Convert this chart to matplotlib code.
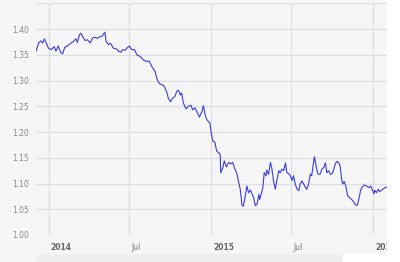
import pandas as pd
import matplotlib
matplotlib.use("Agg")
import matplotlib.pyplot as plt
import matplotlib.transforms as mtransforms
from matplotlib.patches import Rectangle

# EUR/USD style daily series
dates = [
    "2013-12-03", "2013-12-09", "2013-12-14", "2013-12-18", "2013-12-22", "2013-12-31",
    "2014-01-07", "2014-01-13", "2014-01-17", "2014-01-22", "2014-01-28", "2014-02-01",
    "2014-02-06", "2014-02-10", "2014-02-14", "2014-02-19", "2014-02-25", "2014-03-03",
    "2014-03-06", "2014-03-11", "2014-03-14", "2014-03-18", "2014-03-23", "2014-03-29",
    "2014-04-04", "2014-04-10", "2014-04-15", "2014-04-20", "2014-04-26", "2014-05-02",
    "2014-05-07", "2014-05-10", "2014-05-15", "2014-05-20", "2014-05-26", "2014-06-03",
    "2014-06-07", "2014-06-12", "2014-06-16", "2014-06-22", "2014-06-27", "2014-07-01",
    "2014-07-07", "2014-07-13", "2014-07-18", "2014-07-25", "2014-08-02", "2014-08-09",
    "2014-08-15", "2014-08-21", "2014-08-28", "2014-09-02", "2014-09-07", "2014-09-12",
    "2014-09-17", "2014-09-23", "2014-09-27", "2014-10-02", "2014-10-07", "2014-10-12",
    "2014-10-16", "2014-10-20", "2014-10-24", "2014-10-27", "2014-10-31", "2014-11-06",
    "2014-11-11", "2014-11-17", "2014-11-21", "2014-11-26", "2014-12-02", "2014-12-06",
    "2014-12-12", "2014-12-15", "2014-12-19", "2014-12-23", "2014-12-30",
    "2015-01-01", "2015-01-05", "2015-01-10", "2015-01-14", "2015-01-18", "2015-01-22",
    "2015-01-23", "2015-01-28", "2015-01-31", "2015-02-05", "2015-02-10", "2015-02-15",
    "2015-02-19", "2015-02-24", "2015-02-28", "2015-03-04", "2015-03-08", "2015-03-12",
    "2015-03-15", "2015-03-19", "2015-03-23", "2015-03-27", "2015-03-31", "2015-04-04",
    "2015-04-07", "2015-04-11", "2015-04-15", "2015-04-19", "2015-04-21", "2015-04-25",
    "2015-04-28", "2015-05-01", "2015-05-05", "2015-05-07", "2015-05-11", "2015-05-15",
    "2015-05-18", "2015-05-22", "2015-05-26", "2015-05-30", "2015-06-03", "2015-06-06",
    "2015-06-10", "2015-06-14", "2015-06-18", "2015-06-21", "2015-06-25", "2015-06-29",
    "2015-07-03", "2015-07-06", "2015-07-10", "2015-07-14", "2015-07-18", "2015-07-21",
    "2015-07-25", "2015-07-29", "2015-08-02", "2015-08-05", "2015-08-09", "2015-08-13",
    "2015-08-16", "2015-08-22", "2015-08-28", "2015-08-31", "2015-09-04", "2015-09-08",
    "2015-09-12", "2015-09-16", "2015-09-19", "2015-09-23", "2015-09-27", "2015-10-01",
    "2015-10-04", "2015-10-08", "2015-10-12", "2015-10-16", "2015-10-19", "2015-10-23",
    "2015-10-25", "2015-10-28", "2015-11-01", "2015-11-05", "2015-11-09", "2015-11-14",
    "2015-11-18", "2015-11-23", "2015-11-27", "2015-12-01", "2015-12-04", "2015-12-07",
    "2015-12-12", "2015-12-18", "2015-12-23", "2015-12-27", "2015-12-31",
    "2016-01-03", "2016-01-05", "2016-01-09", "2016-01-13", "2016-01-16", "2016-01-20",
    "2016-01-24", "2016-01-28", "2016-02-01",
]
rates = [
    1.357, 1.373, 1.377, 1.373, 1.381, 1.363,
    1.360, 1.366, 1.357, 1.367, 1.354, 1.352,
    1.365, 1.366, 1.369, 1.372, 1.376, 1.381,
    1.374, 1.389, 1.392, 1.386, 1.378, 1.379,
    1.373, 1.383, 1.384, 1.382, 1.385, 1.387,
    1.394, 1.376, 1.370, 1.372, 1.363, 1.361,
    1.357, 1.355, 1.360, 1.359, 1.364, 1.367,
    1.360, 1.360, 1.350, 1.347, 1.340, 1.337,
    1.338, 1.327, 1.318, 1.302, 1.294, 1.292,
    1.290, 1.279, 1.266, 1.259, 1.266, 1.269,
    1.279, 1.281, 1.272, 1.276, 1.256, 1.245,
    1.250, 1.252, 1.243, 1.247, 1.237, 1.229,
    1.240, 1.251, 1.233, 1.224, 1.217,
    1.202, 1.183, 1.180, 1.163, 1.160, 1.157,
    1.121, 1.131, 1.144, 1.132, 1.141, 1.138,
    1.141, 1.128, 1.121, 1.105, 1.089, 1.058,
    1.056, 1.073, 1.095, 1.082, 1.087, 1.079,
    1.073, 1.057, 1.060, 1.079, 1.069, 1.082,
    1.092, 1.121, 1.115, 1.126, 1.118, 1.141,
    1.131, 1.105, 1.089, 1.108, 1.125, 1.121,
    1.128, 1.125, 1.140, 1.121, 1.119, 1.115,
    1.106, 1.115, 1.099, 1.089, 1.086, 1.099,
    1.105, 1.099, 1.092, 1.089, 1.099, 1.118,
    1.115, 1.152, 1.125, 1.118, 1.118, 1.128,
    1.131, 1.140, 1.121, 1.125, 1.118, 1.119,
    1.125, 1.138, 1.143, 1.140, 1.134, 1.106,
    1.099, 1.104, 1.095, 1.076, 1.073, 1.069,
    1.065, 1.058, 1.058, 1.073, 1.086, 1.092,
    1.097, 1.095, 1.092, 1.095, 1.087,
    1.080, 1.087, 1.082, 1.089, 1.084, 1.087,
    1.089, 1.092, 1.093,
]

tick_dates = ["2014-01-01", "2014-07-01", "2015-01-01", "2015-07-01", "2016-01-01"]
tick_labels = ["2014", "Jul", "2015", "Jul", "2016"]
y_ticks = [1.00, 1.05, 1.10, 1.15, 1.20, 1.25, 1.30, 1.35, 1.40, 1.45]

x = pd.to_datetime(dates)

bg = "#f6f6f6"
fig = plt.figure(figsize=(4, 2.62), dpi=100, facecolor=bg)
ax = fig.add_axes([36 / 400, 1 - 235 / 262, (386.7 - 36) / 400, (235 - 3.3) / 262])
ax.set_facecolor(bg)

ax.plot(x, rates, color="#3b3bdc", lw=0.8)

ax.set_xlim(pd.Timestamp("2013-12-03"), pd.Timestamp("2016-02-01"))
ax.set_ylim(1.00, 1.45)

ax.set_yticks(y_ticks)
ax.set_yticklabels(["%.2f" % v for v in y_ticks[:-1]] + [""])
ax.set_xticks(pd.to_datetime(tick_dates))
ax.set_xticklabels(tick_labels)

ax.grid(True, color="#dedede", lw=0.9)
ax.set_axisbelow(True)
for s in ax.spines.values():
    s.set_visible(False)
ax.tick_params(length=0)
ax.tick_params(axis="y", labelsize=5.5, labelcolor="#8a8a8a", pad=5)
ax.tick_params(axis="x", labelsize=5.5, labelcolor="#777777", pad=6)

offset = mtransforms.ScaledTranslation(2 / 100, 0, fig.dpi_scale_trans)
for lab in ax.get_xticklabels():
    lab.set_ha("left")
    lab.set_transform(lab.get_transform() + offset)
    if lab.get_text() in ("2014", "2015", "2016"):
        lab.set_fontweight("bold")
        lab.set_color("#666666")

# white strip on the right and the bottom strip below the labels
fig.add_artist(Rectangle((387 / 400, 0), 1, 1, transform=fig.transFigure,
                         facecolor="white", edgecolor="none", zorder=10))
fig.add_artist(Rectangle((36 / 400, 0), (343 - 36) / 400, 8 / 262, transform=fig.transFigure,
                         facecolor="#efefef", edgecolor="none", zorder=10))
fig.add_artist(Rectangle((343 / 400, 0), 1, 8 / 262, transform=fig.transFigure,
                         facecolor="white", edgecolor="none", zorder=10))

fig.savefig("out.png", dpi=100, facecolor=bg)
